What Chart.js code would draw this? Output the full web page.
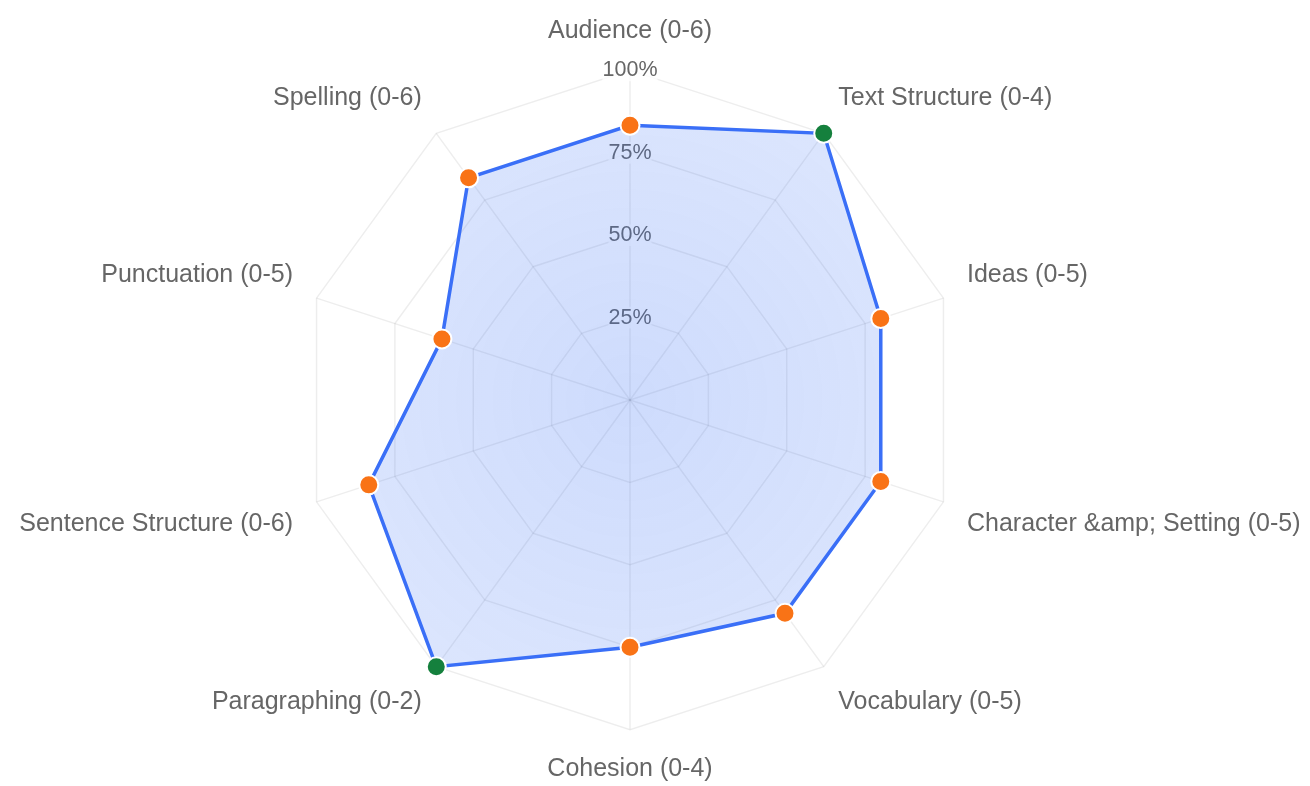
<!DOCTYPE html>
<html>
<head>
<meta charset="utf-8">
<script src="https://cdn.jsdelivr.net/npm/chart.js@4/dist/chart.umd.min.js"></script>
<style>
  html, body { margin: 0; padding: 0; background: #ffffff; overflow: hidden; width: 1310px; height: 786px; }
  #wrap { width: 1342px; height: 800px; position: absolute; left: -11px; top: 0; }
</style>
</head>
<body>
<div id="wrap"><canvas id="c"></canvas></div>
<script>
// Criteria (labels shown around the radar)
const categories = [
  'Audience (0-6)',
  'Text Structure (0-4)',
  'Ideas (0-5)',
  'Character &amp; Setting (0-5)',
  'Vocabulary (0-5)',
  'Cohesion (0-4)',
  'Paragraphing (0-2)',
  'Sentence Structure (0-6)',
  'Punctuation (0-5)',
  'Spelling (0-6)'
];
// Score as a percentage of each criterion's maximum
const percentScores = [83.33, 100, 80, 80, 80, 75, 100, 83.33, 60, 83.33];
// Radial tick values
const tickValues = [0, 25, 50, 75, 100];

const ORANGE = '#f97316';
const GREEN = '#15803d';
const LINE = '#3a6ff7';

const ctx = document.getElementById('c').getContext('2d');
new Chart(ctx, {
  type: 'radar',
  data: {
    labels: categories,
    datasets: [{
      label: 'Score',
      data: percentScores,
      borderColor: LINE,
      borderWidth: 3.5,
      backgroundColor: function(context) {
        const chart = context.chart;
        const s = chart.scales && chart.scales.r;
        if (!s || !isFinite(s.xCenter)) return 'rgba(59,113,246,0.2)';
        const g = chart.ctx.createRadialGradient(s.xCenter, s.yCenter, 0, s.xCenter, s.yCenter, s.drawingArea);
        g.addColorStop(0, 'rgba(59,113,246,0.25)');
        g.addColorStop(1, 'rgba(59,113,246,0.18)');
        return g;
      },
      fill: true,
      pointBackgroundColor: percentScores.map(v => v >= 100 ? GREEN : ORANGE),
      pointBorderColor: '#ffffff',
      pointBorderWidth: 2,
      pointRadius: 9.5,
      pointHoverRadius: 9.5
    }]
  },
  options: {
    responsive: true,
    maintainAspectRatio: false,
    animation: false,
    layout: { padding: 0 },
    plugins: {
      legend: { display: false },
      tooltip: { enabled: false }
    },
    scales: {
      r: {
        min: tickValues[0],
        max: tickValues[tickValues.length - 1],
        ticks: {
          stepSize: 25,
          color: '#666666',
          font: { size: 21.5, family: 'Liberation Sans, Arial, sans-serif' },
          callback: v => (v === 0 ? '' : v + '%'),
          backdropColor: 'rgba(255,255,255,0.75)',
          backdropPadding: 0
        },
        grid: { color: 'rgba(0,0,0,0.07)', lineWidth: 1.5 },
        angleLines: { color: 'rgba(0,0,0,0.07)', lineWidth: 1.5 },
        pointLabels: {
          color: '#666666',
          padding: 14,
          font: { size: 25, family: 'Liberation Sans, Arial, sans-serif' }
        }
      }
    }
  }
});
</script>
</body>
</html>
